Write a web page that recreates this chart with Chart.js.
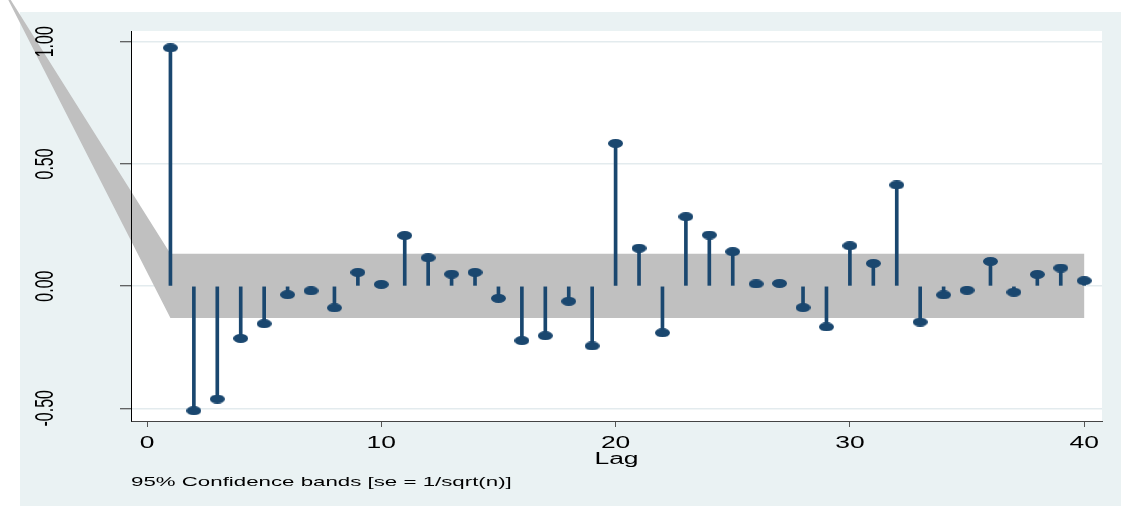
<!DOCTYPE html>
<html>
<head>
<meta charset="utf-8">
<script src="https://cdn.jsdelivr.net/npm/chart.js@4.4.1/dist/chart.umd.min.js"></script>
<style>
html,body{margin:0;padding:0;background:#fff;}
#wrap{width:1121px;height:506px;position:relative;}
canvas{display:block;}
</style>
</head>
<body>
<div id="wrap"><canvas id="c" width="1121" height="506" style="width:1121px;height:506px"></canvas></div>
<script>
// ---- data ----
const lags = [1,2,3,4,5,6,7,8,9,10,11,12,13,14,15,16,17,18,19,20,21,22,23,24,25,26,27,28,29,30,31,32,33,34,35,36,37,38,39,40];
const pacf = [0.975,-0.510,-0.462,-0.214,-0.154,-0.035,-0.019,-0.089,0.056,0.007,
              0.207,0.116,0.049,0.056,-0.050,-0.223,-0.203,-0.062,-0.245,0.584,
              0.155,-0.191,0.284,0.209,0.141,0.009,0.011,-0.088,-0.167,0.165,
              0.093,0.414,-0.147,-0.036,-0.017,0.101,-0.025,0.048,0.074,0.022];
const bandLags  = [-6, 1, 40];
const bandUpper = [1.199, 0.132, 0.132];
const bandLower = [1.186, -0.130, -0.130];
const xTickValues = [0, 10, 20, 30, 40];
const yTickValues = [-0.5, 0, 0.5, 1];
const xTitle = 'Lag';
const noteText = '95% Confidence bands [se = 1/sqrt(n)]';

// ---- style ----
const FONT = "'Liberation Sans', Arial, Helvetica, sans-serif";
const NAVY = '#1a476f';
const SX = 1.65; // horizontal stretch of text, as in the reference

const canvas = document.getElementById('c');
const ctx = canvas.getContext('2d');
const nativeFill = CanvasRenderingContext2D.prototype.fillText;
ctx.fillText = function (t, x, y, mw) {
  const m = this.getTransform();
  const p = m.transformPoint(new DOMPoint(x, y));
  this.save();
  this.setTransform(new DOMMatrix([SX, 0, 0, 1, p.x * (1 - SX), 0]).multiply(m));
  if (mw === undefined) nativeFill.call(this, t, x, y); else nativeFill.call(this, t, x, y, mw);
  this.restore();
};

function ellipseMarker(w, h, color) {
  const c = document.createElement('canvas');
  c.width = w; c.height = h;
  const g = c.getContext('2d');
  g.fillStyle = color;
  g.beginPath();
  g.ellipse(w / 2, h / 2, w / 2, h / 2, 0, 0, Math.PI * 2);
  g.fill();
  return c;
}
const marker = ellipseMarker(15, 9, NAVY);

const bgPlugin = {
  id: 'bg',
  beforeDraw(chart) {
    const c = chart.ctx, W = chart.width, H = chart.height, a = chart.chartArea;
    c.save();
    c.fillStyle = '#ffffff'; c.fillRect(0, 0, W, H);
    c.fillStyle = '#eaf2f3'; c.fillRect(20, 12, W - 20, H - 12);
    c.fillStyle = '#ffffff'; c.fillRect(a.left, a.top, a.right - a.left, a.bottom - a.top);
    c.restore();
  }
};

const bandPlugin = {
  id: 'band',
  beforeDatasetsDraw(chart) {
    const c = chart.ctx, xs = chart.scales.x, ys = chart.scales.y;
    c.save();
    c.beginPath();
    bandLags.forEach((l, i) => {
      const px = xs.getPixelForValue(l), py = ys.getPixelForValue(bandUpper[i]);
      if (i === 0) c.moveTo(px, py); else c.lineTo(px, py);
    });
    for (let i = bandLags.length - 1; i >= 0; i--) {
      c.lineTo(xs.getPixelForValue(bandLags[i]), ys.getPixelForValue(bandLower[i]));
    }
    c.closePath();
    c.fillStyle = '#c0c0c0';
    c.fill();
    c.restore();
  }
};

new Chart(ctx, {
  type: 'bar',
  data: {
    datasets: [
      {
        type: 'scatter', label: 'PACF',
        data: lags.map((l, i) => ({ x: l, y: pacf[i] })),
        pointStyle: marker, pointRadius: 5, order: 0
      },
      {
        type: 'bar', label: 'stems',
        data: lags.map((l, i) => ({ x: l, y: [0, pacf[i]] })),
        backgroundColor: NAVY, borderWidth: 0, barThickness: 3, grouped: false, order: 1
      }
    ]
  },
  options: {
    responsive: false,
    animation: false,
    devicePixelRatio: 1,
    layout: { padding: { top: 31, right: 19, bottom: 0, left: 0 } },
    plugins: {
      legend: { display: false },
      tooltip: { enabled: false },
      title: {
        display: true, text: noteText, position: 'bottom', align: 'start', fullSize: false,
        color: '#000', font: { family: FONT, size: 13.5, weight: 'normal' },
        padding: { top: 5.4, bottom: 15.4 }
      }
    },
    scales: {
      x: {
        type: 'linear', min: -0.683, max: 40.76, offset: false,
        afterBuildTicks: s => { s.ticks = xTickValues.map(v => ({ value: v })); },
        afterFit: s => { s.height = 48; s.paddingLeft = 0; s.paddingRight = 0; },
        grid: { drawOnChartArea: false, drawTicks: true, tickLength: 6, tickColor: '#555', tickWidth: 1, offset: false },
        border: { display: true, color: '#444', width: 1, z: 1 },
        ticks: {
          z: 1, color: '#000', font: { family: FONT, size: 16 }, padding: 6.5,
          maxRotation: 0, minRotation: 0, autoSkip: false, callback: v => String(v)
        },
        title: { display: true, text: xTitle, color: '#000', font: { family: FONT, size: 16 }, padding: { top: 0, bottom: 0.2 } }
      },
      y: {
        type: 'linear', min: -0.552, max: 1.044,
        afterBuildTicks: s => { s.ticks = yTickValues.map(v => ({ value: v })); },
        afterFit: s => { s.width = 131; s.paddingTop = 0; s.paddingBottom = 0; },
        grid: { color: '#e3ebee', lineWidth: 1.5, drawTicks: true, tickLength: 11, tickColor: '#333', tickWidth: 1 },
        border: { display: true, color: '#000', width: 1, z: 1 },
        ticks: {
          z: 1, color: '#000', font: { family: FONT, size: 16 }, padding: 56,
          minRotation: 90, maxRotation: 90, crossAlign: 'center', autoSkip: false,
          callback: v => Number(v).toFixed(2)
        }
      }
    }
  },
  plugins: [bgPlugin, bandPlugin]
});
</script>
</body>
</html>
